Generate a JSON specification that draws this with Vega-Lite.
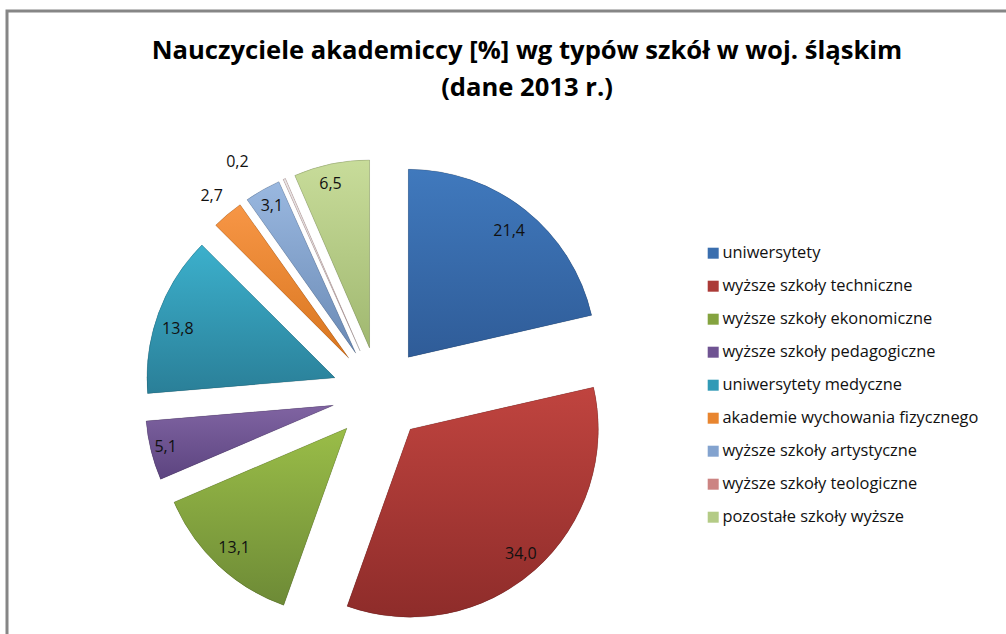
{
"$schema":"https://vega.github.io/schema/vega-lite/v6.json",
"width":1010,"height":640,
"autosize":{"type":"none"},
"padding":{"left":7,"top":11,"right":0,"bottom":0},
"background":"white",
"config":{"view":{"stroke":"#868686","strokeWidth":3},"font":"Open Sans"},
"title":{"text":["Nauczyciele akademiccy [%] wg typów szkół w woj. śląskim","(dane 2013 r.)"],"font":"Open Sans","fontWeight":"bold","fontSize":25.6,"lineHeight":37,"color":"#000000","anchor":"start","frame":"group","dx":520,"align":"center","baseline":"top","offset":-91},
"data":{"values":[
{"typ":"uniwersytety","pct":21.4,"label":"21,4"},
{"typ":"wyższe szkoły techniczne","pct":34.0,"label":"34,0"},
{"typ":"wyższe szkoły ekonomiczne","pct":13.1,"label":"13,1"},
{"typ":"wyższe szkoły pedagogiczne","pct":5.1,"label":"5,1"},
{"typ":"uniwersytety medyczne","pct":13.8,"label":"13,8"},
{"typ":"akademie wychowania fizycznego","pct":2.7,"label":"2,7"},
{"typ":"wyższe szkoły artystyczne","pct":3.1,"label":"3,1"},
{"typ":"wyższe szkoły teologiczne","pct":0.2,"label":"0,2"},
{"typ":"pozostałe szkoły wyższe","pct":6.5,"label":"6,5"}
]},
"transform":[
{"window":[{"op":"row_number","as":"ord"}]},
{"window":[{"op":"sum","field":"pct","as":"cum"}],"sort":[{"field":"ord"}],"frame":[null,0]},
{"joinaggregate":[{"op":"sum","field":"pct","as":"tot"}]},
{"calculate":"2*PI*(datum.cum-datum.pct)/datum.tot","as":"a0"},
{"calculate":"2*PI*datum.cum/datum.tot","as":"a1"},
{"calculate":"(datum.a0+datum.a1)/2","as":"mid"},
{"calculate":"sin(datum.mid)*0.25","as":"cx"},
{"calculate":"-cos(datum.mid)*0.25","as":"cy"},
{"calculate":"datum.pct==0.2?1.2:datum.pct==2.7?1.13:datum.pct==5.1?0.92:datum.pct==6.5?0.895:datum.pct==3.1?0.9:datum.pct==21.4?0.86:datum.pct==34?0.885:0.875","as":"lr"},
{"calculate":"datum.pct==0.2?datum.mid-0.16:datum.pct==13.8?datum.mid-0.05:datum.pct==6.5?datum.mid-0.03:datum.mid","as":"la"},
{"calculate":"datum.cx+datum.lr*sin(datum.la)","as":"lx"},
{"calculate":"datum.cy-datum.lr*cos(datum.la)","as":"ly"}
],
"layer":[
{"mark":{"type":"arc","radius":188},
"encoding":{
"x":{"field":"cx","type":"quantitative","scale":{"domain":[-1.979,3.393],"range":[0,1010]},"axis":null},
"y":{"field":"cy","type":"quantitative","scale":{"domain":[-2.0372,1.367],"range":[0,640]},"axis":null},
"theta":{"field":"a0","type":"quantitative","scale":{"domain":[0,6.283185],"range":[0,6.283185]}},
"theta2":{"field":"a1"},
"fill":{"field":"typ","type":"nominal",
"scale":{"domain":["uniwersytety","wyższe szkoły techniczne","wyższe szkoły ekonomiczne","wyższe szkoły pedagogiczne","uniwersytety medyczne","akademie wychowania fizycznego","wyższe szkoły artystyczne","wyższe szkoły teologiczne","pozostałe szkoły wyższe"],
"range":["#3a6eae","#ab3a37","#84a33f","#6f5392","#319ab6","#e8852f","#83a3cf","#cc8482","#b4cb86"]},
"legend":{"title":null,"orient":"none","legendX":698,"legendY":234,"symbolType":"square","symbolSize":121,"symbolStrokeWidth":0,"labelFont":"Open Sans","labelFontSize":16.4,"labelColor":"#111111","rowPadding":16,"labelOffset":1,"labelLimit":320}}
}},
{"mark":{"type":"arc","radius":188,"stroke":"#000000","strokeOpacity":0.15,"strokeWidth":1},
"encoding":{
"x":{"field":"cx","type":"quantitative","scale":{"domain":[-1.979,3.393],"range":[0,1010]},"axis":null},
"y":{"field":"cy","type":"quantitative","scale":{"domain":[-2.0372,1.367],"range":[0,640]},"axis":null},
"theta":{"field":"a0","type":"quantitative","scale":{"domain":[0,6.283185],"range":[0,6.283185]}},
"theta2":{"field":"a1"},
"fill":{"condition":[
{"test":"datum.ord==1","value":{"gradient":"linear","x1":0,"y1":0,"x2":0,"y2":1,"stops":[{"offset":0,"color":"#4079bd"},{"offset":1,"color":"#2f5c98"}]}},
{"test":"datum.ord==2","value":{"gradient":"linear","x1":0,"y1":0,"x2":0,"y2":1,"stops":[{"offset":0,"color":"#c0443f"},{"offset":1,"color":"#8e2c2a"}]}},
{"test":"datum.ord==3","value":{"gradient":"linear","x1":0,"y1":0,"x2":0,"y2":1,"stops":[{"offset":0,"color":"#9abd48"},{"offset":1,"color":"#6d8a36"}]}},
{"test":"datum.ord==4","value":{"gradient":"linear","x1":0,"y1":0,"x2":0,"y2":1,"stops":[{"offset":0,"color":"#8064a2"},{"offset":1,"color":"#5c4480"}]}},
{"test":"datum.ord==5","value":{"gradient":"linear","x1":0,"y1":0,"x2":0,"y2":1,"stops":[{"offset":0,"color":"#3cb0cc"},{"offset":1,"color":"#2a7f98"}]}},
{"test":"datum.ord==6","value":{"gradient":"linear","x1":0,"y1":0,"x2":0,"y2":1,"stops":[{"offset":0,"color":"#f79646"},{"offset":1,"color":"#d9761f"}]}},
{"test":"datum.ord==7","value":{"gradient":"linear","x1":0,"y1":0,"x2":0,"y2":1,"stops":[{"offset":0,"color":"#9ab8e0"},{"offset":1,"color":"#6a8ab5"}]}},
{"test":"datum.ord==8","value":{"gradient":"linear","x1":0,"y1":0,"x2":0,"y2":1,"stops":[{"offset":0,"color":"#ece6e6"},{"offset":1,"color":"#d8d0d0"}]}}
],"value":{"gradient":"linear","x1":0,"y1":0,"x2":0,"y2":1,"stops":[{"offset":0,"color":"#c8dc9a"},{"offset":1,"color":"#a0b870"}]}}
}},
{"mark":{"type":"text","font":"Open Sans","fontSize":16,"color":"#111111","align":"center","baseline":"middle"},
"encoding":{
"x":{"field":"lx","type":"quantitative","scale":{"domain":[-1.979,3.393],"range":[0,1010]},"axis":null},
"y":{"field":"ly","type":"quantitative","scale":{"domain":[-2.0372,1.367],"range":[0,640]},"axis":null},
"text":{"field":"label"}
}}
]
}
